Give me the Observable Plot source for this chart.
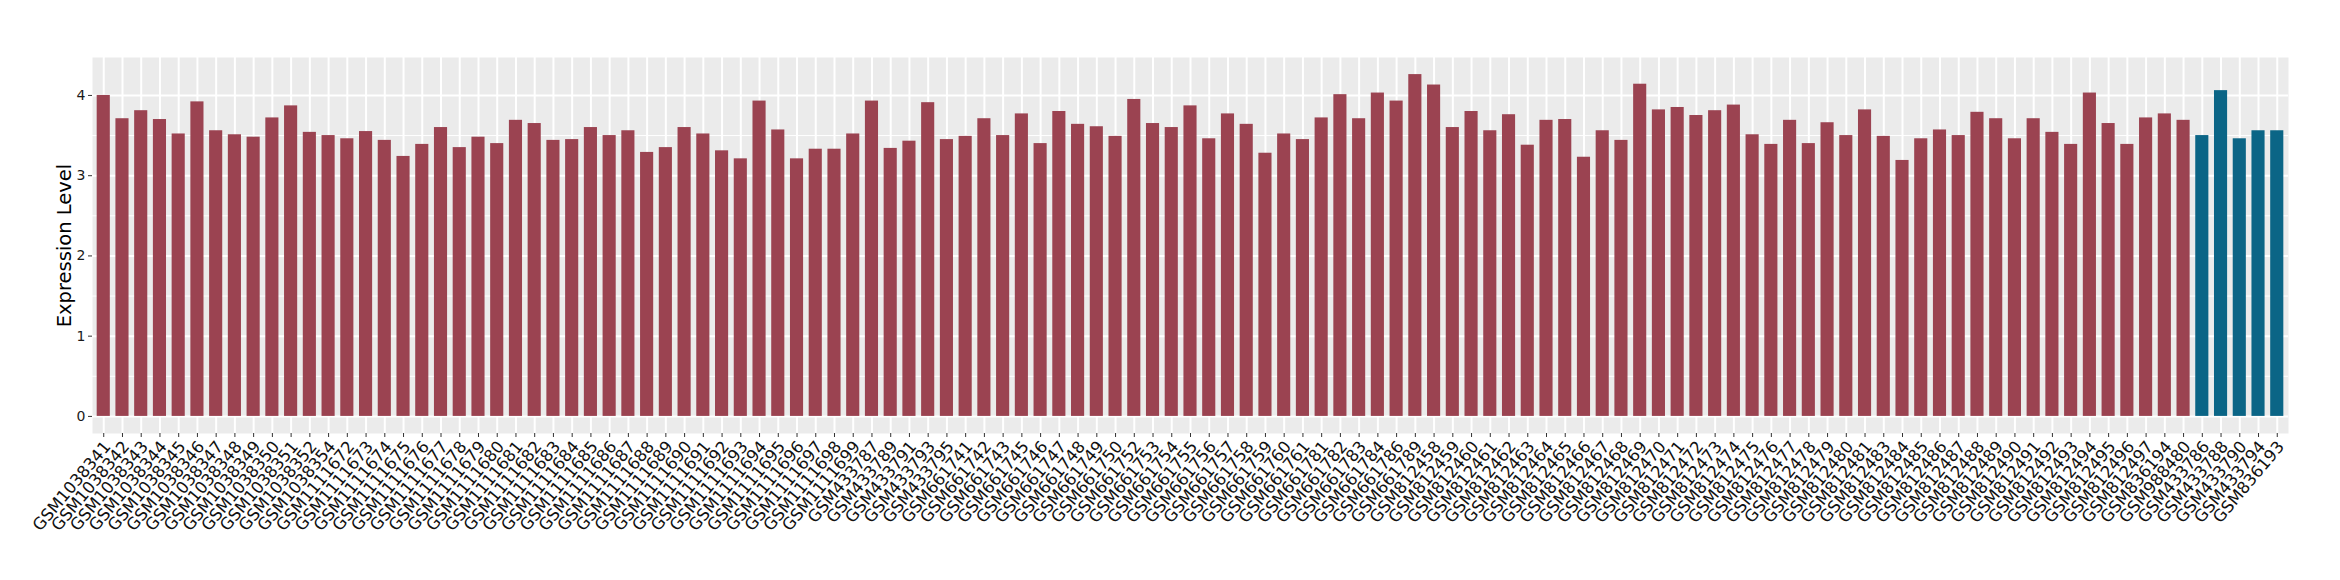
<!DOCTYPE html>
<html>
<head>
<meta charset="utf-8">
<script src="https://cdn.jsdelivr.net/npm/d3@7"></script>
<script src="https://cdn.jsdelivr.net/npm/@observablehq/plot@0.6"></script>
<style>
  html, body { margin: 0; padding: 0; background: #ffffff; }
  #chart svg { display: block; }
</style>
</head>
<body>
<div id="chart"></div>
<script>
const samples = [
  "GSM1038341","GSM1038342","GSM1038343","GSM1038344","GSM1038345","GSM1038346","GSM1038347","GSM1038348","GSM1038349","GSM1038350","GSM1038351","GSM1038352","GSM1038354",
  "GSM1111672","GSM1111673","GSM1111674","GSM1111675","GSM1111676","GSM1111677","GSM1111678","GSM1111679","GSM1111680","GSM1111681","GSM1111682","GSM1111683","GSM1111684","GSM1111685",
  "GSM1111686","GSM1111687","GSM1111688","GSM1111689","GSM1111690","GSM1111691","GSM1111692","GSM1111693","GSM1111694","GSM1111695","GSM1111696","GSM1111697","GSM1111698","GSM1111699",
  "GSM433787","GSM433789","GSM433791","GSM433793","GSM433795",
  "GSM661741","GSM661742","GSM661743","GSM661745","GSM661746","GSM661747","GSM661748","GSM661749","GSM661750","GSM661752","GSM661753","GSM661754","GSM661755",
  "GSM661756","GSM661757","GSM661758","GSM661759","GSM661760","GSM661761","GSM661781","GSM661782","GSM661783","GSM661784","GSM661786","GSM661789",
  "GSM812458","GSM812459","GSM812460","GSM812461","GSM812462","GSM812463","GSM812464","GSM812465","GSM812466","GSM812467","GSM812468","GSM812469","GSM812470",
  "GSM812471","GSM812472","GSM812473","GSM812474","GSM812475","GSM812476","GSM812477","GSM812478","GSM812479","GSM812480","GSM812481","GSM812483","GSM812484",
  "GSM812485","GSM812486","GSM812487","GSM812488","GSM812489","GSM812490","GSM812491","GSM812492","GSM812493","GSM812494","GSM812495","GSM812496","GSM812497",
  "GSM836194","GSM988480",
  "GSM433786","GSM433788","GSM433790","GSM433794","GSM836193"
];

const values = [
  4.00,3.71,3.81,3.70,3.52,3.92,3.56,3.51,3.48,3.72,3.87,3.54,3.50,
  3.46,3.55,3.44,3.24,3.39,3.60,3.35,3.48,3.40,3.69,3.65,3.44,3.45,3.60,
  3.50,3.56,3.29,3.35,3.60,3.52,3.31,3.21,3.93,3.57,3.21,3.33,3.33,3.52,
  3.93,3.34,3.43,3.91,3.45,
  3.49,3.71,3.50,3.77,3.40,3.80,3.64,3.61,3.49,3.95,3.65,3.60,3.87,
  3.46,3.77,3.64,3.28,3.52,3.45,3.72,4.01,3.71,4.03,3.93,4.26,
  4.13,3.60,3.80,3.56,3.76,3.38,3.69,3.70,3.23,3.56,3.44,4.14,3.82,
  3.85,3.75,3.81,3.88,3.51,3.39,3.69,3.40,3.66,3.50,3.82,3.49,3.19,
  3.46,3.57,3.50,3.79,3.71,3.46,3.71,3.54,3.39,4.03,3.65,3.39,3.72,
  3.77,3.69,
  3.50,4.06,3.46,3.56,3.56
];

const groups = samples.map((s, i) => i < 112 ? "other" : "highlight");
const groupNames = ["other", "highlight"];
const groupColors = ["#9B4351", "#0B6586"];

const yMajor = [0, 1, 2, 3, 4];
const yMinor = [0.5, 1.5, 2.5, 3.5];

const data = samples.map((s, i) => ({sample: s, value: values[i], group: groups[i]}));

const maxV = d3.max(values);
const pad = maxV * 0.05;

const chart = Plot.plot({
  width: 2340,
  height: 580,
  marginLeft: 92,
  marginRight: 52,
  marginTop: 57,
  marginBottom: 147,
  style: {fontFamily: "'DejaVu Sans', sans-serif", background: "#ffffff"},
  x: {type: "band", domain: samples, paddingInner: 0.3, paddingOuter: 0.25, label: null},
  y: {domain: [-pad, maxV + pad], label: null},
  color: {domain: groupNames, range: groupColors},
  marks: [
    Plot.frame({fill: "#EBEBEB", stroke: null}),
    Plot.ruleY(yMinor, {stroke: "#ffffff", strokeWidth: 1}),
    Plot.ruleY(yMajor, {stroke: "#ffffff", strokeWidth: 2}),
    Plot.ruleX(samples, {x: d => d, stroke: "#ffffff", strokeWidth: 2}),
    Plot.barY(data, {x: "sample", y: "value", fill: "group"}),
    Plot.axisY({
      ticks: yMajor, tickSize: 4, tickPadding: 3, fontSize: 14, color: "#1a1a1a",
      stroke: "#333", tickFormat: d => String(d),
      label: "Expression Level", labelAnchor: "center", labelArrow: "none", labelOffset: 35
    }),
    Plot.axisX({
      tickSize: 4, tickPadding: 3, tickRotate: -50, fontSize: 16.5, color: "#111",
      stroke: "#333", label: null
    })
  ]
});

d3.select(chart).selectAll("g[aria-label='y-axis label'] text").attr("font-size", 19.5).attr("fill", "#000");
d3.select(chart).selectAll("g[aria-label='x-axis tick label'] text").attr("dy", "0.3em");
document.getElementById("chart").appendChild(chart);
</script>
</body>
</html>
